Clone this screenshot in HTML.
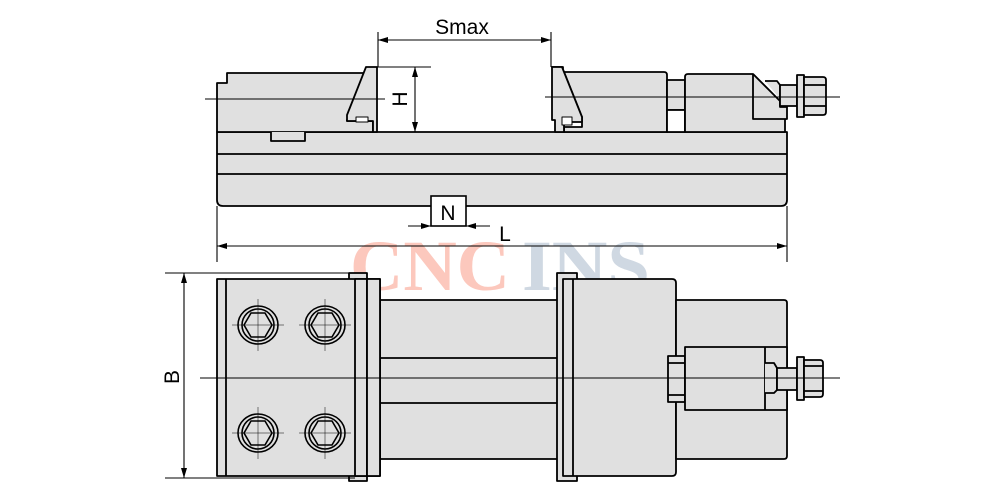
<!DOCTYPE html>
<html><head><meta charset="utf-8"><style>html,body{margin:0;padding:0;background:#fff}svg{display:block}</style></head><body>
<svg width="1000" height="500" viewBox="0 0 1000 500" xmlns="http://www.w3.org/2000/svg">
<defs>
<marker id="ar" viewBox="0 0 10 6" refX="10" refY="3" markerWidth="10" markerHeight="6" orient="auto-start-reverse" markerUnits="userSpaceOnUse"><path d="M0,0 L10,3 L0,6 z" fill="#000"/></marker>
<g id="scr">
<ellipse cx="0" cy="0" rx="20" ry="19" fill="none" stroke="#000" stroke-width="1.6"/>
<circle cx="0" cy="0" r="16" fill="none" stroke="#000" stroke-width="1.6"/>
<polygon points="-14,0 -7,-12 7,-12 14,0 7,12 -7,12" fill="none" stroke="#000" stroke-width="1.6"/>
<line x1="-26" y1="0" x2="26" y2="0" stroke="#000" stroke-width="0.5"/>
<line x1="0" y1="-26" x2="0" y2="26" stroke="#000" stroke-width="0.5"/>
</g>
</defs>
<!-- watermark -->
<text x="350" y="290" font-family="Liberation Serif, serif" font-weight="bold" font-size="72" fill="#fcc8bd" textLength="160" lengthAdjust="spacingAndGlyphs">CNC</text>
<text x="522" y="290" font-family="Liberation Serif, serif" font-weight="bold" font-size="72" fill="#cfd8e2" textLength="128" lengthAdjust="spacingAndGlyphs">INS</text>

<g stroke="#000" stroke-width="1.8" fill="#e0e0e0" stroke-linejoin="round">
<!-- TOP VIEW body -->
<path d="M217,132 H787 V200 Q787,206 781,206 H223 Q217,206 217,200 Z"/>
<line x1="217" y1="154" x2="787" y2="154"/>
<line x1="217" y1="174" x2="787" y2="174"/>
<!-- left block -->
<path d="M217,132 V83 H227 V73 H366 L347,120 V121 H373 V132 Z"/>
<path d="M271,132 V141 H305 V132" fill="#e0e0e0"/>
<!-- left jaw -->
<path d="M366,67 H377 V132 H373 V121 H347 V115 Z"/>
<rect x="356" y="117" width="12" height="5" fill="#fff" stroke-width="1"/>
<!-- right block -->
<path d="M552,67 H563 V72 H664 Q667,72 667,75 V132 H564 V127 H582 V117 L562,67 Z"/>
<path d="M552,67 H562 L582,117 V122 H564 V127 V132 H555 V120 H552 Z"/>
<rect x="562" y="117" width="10" height="8" fill="#fff" stroke-width="1"/>
<!-- neck -->
<rect x="667" y="80" width="18" height="30"/>
<rect x="667" y="110" width="18" height="22" fill="#fff"/>
<!-- nut block -->
<path d="M685,132 V77 Q685,74 688,74 H753 L785,106 V132 Z"/>
<path d="M753,74 V119 H787 V106"/>
<line x1="753" y1="74" x2="785" y2="106"/>
<path d="M765,81 H777 L780,85 V107 H787"/>
<rect x="780" y="85" width="17" height="21"/>
<rect x="797" y="75" width="7" height="42"/>
<path d="M804,77 H823 Q826,77 826,80 V112 Q826,115 823,115 H804 Z"/>
<line x1="804" y1="85" x2="826" y2="85"/>
<line x1="804" y1="106" x2="826" y2="106"/>

<!-- BOTTOM VIEW -->
<rect x="380" y="300" width="183" height="159"/>
<line x1="380" y1="358" x2="563" y2="358"/>
<line x1="380" y1="403" x2="563" y2="403"/>
<rect x="349" y="273" width="18" height="208"/>
<rect x="217" y="279" width="163" height="197"/>
<line x1="226" y1="279" x2="226" y2="476"/>
<rect x="355" y="279" width="12" height="197"/>
<rect x="367" y="279" width="13" height="197"/>
<rect x="557" y="273" width="20" height="208"/>
<path d="M563,279 H672 Q676,279 676,283 V472 Q676,476 672,476 H563 Z"/>
<line x1="573" y1="279" x2="573" y2="476"/>
<path d="M676,300 H784 Q787,300 787,303 V456 Q787,459 784,459 H676 Z"/>
<rect x="668" y="356" width="17" height="46"/>
<line x1="668" y1="363" x2="685" y2="363"/>
<line x1="668" y1="395" x2="685" y2="395"/>
<rect x="685" y="347" width="102" height="63"/>
<line x1="765" y1="347" x2="765" y2="410"/>
<path d="M765,363 H774 L777,368 V390 L774,393 H765"/>
<rect x="777" y="368" width="20" height="22"/>
<rect x="797" y="357" width="7" height="43"/>
<path d="M804,360 H820 Q823,360 823,363 V394 Q823,397 820,397 H804 Z"/>
<line x1="804" y1="366" x2="823" y2="366"/>
<line x1="804" y1="391" x2="823" y2="391"/>
</g>
<use href="#scr" x="258" y="325"/>
<use href="#scr" x="325" y="325"/>
<use href="#scr" x="258" y="433"/>
<use href="#scr" x="325" y="433"/>

<g stroke="#000" stroke-width="1.1" fill="none">
<!-- center lines -->
<line x1="205" y1="99" x2="385" y2="99"/>
<line x1="545" y1="97" x2="840" y2="97"/>
<line x1="200" y1="378" x2="840" y2="378"/>
<!-- Smax -->
<line x1="378" y1="32" x2="378" y2="67"/>
<line x1="551" y1="32" x2="551" y2="67"/>
<line x1="378" y1="40" x2="551" y2="40" marker-start="url(#ar)" marker-end="url(#ar)"/>
<!-- H -->
<line x1="377" y1="67" x2="431" y2="67"/>
<line x1="415" y1="67" x2="415" y2="132" marker-start="url(#ar)" marker-end="url(#ar)"/>
<!-- N -->
<rect x="431" y="196" width="35" height="30" fill="#fff" stroke-width="1.6"/>
<line x1="408" y1="226" x2="431" y2="226" marker-end="url(#ar)"/>
<line x1="490" y1="226" x2="466" y2="226" marker-end="url(#ar)"/>
<!-- L -->
<line x1="217" y1="206" x2="217" y2="262"/>
<line x1="787" y1="206" x2="787" y2="262"/>
<line x1="217" y1="246" x2="787" y2="246" marker-start="url(#ar)" marker-end="url(#ar)"/>
<!-- B -->
<line x1="165" y1="273" x2="355" y2="273"/>
<line x1="165" y1="478" x2="355" y2="478"/>
<line x1="184" y1="273" x2="184" y2="478" marker-start="url(#ar)" marker-end="url(#ar)"/>
</g>
<g font-family="Liberation Sans, sans-serif" font-size="21" fill="#000">
<text x="462" y="34" text-anchor="middle">Smax</text>
<text x="448" y="220" text-anchor="middle">N</text>
<text x="505" y="241" text-anchor="middle">L</text>
<text transform="translate(407,99) rotate(-90)" text-anchor="middle">H</text>
<text transform="translate(179,377) rotate(-90)" text-anchor="middle">B</text>
</g>
</svg>
</body></html>
